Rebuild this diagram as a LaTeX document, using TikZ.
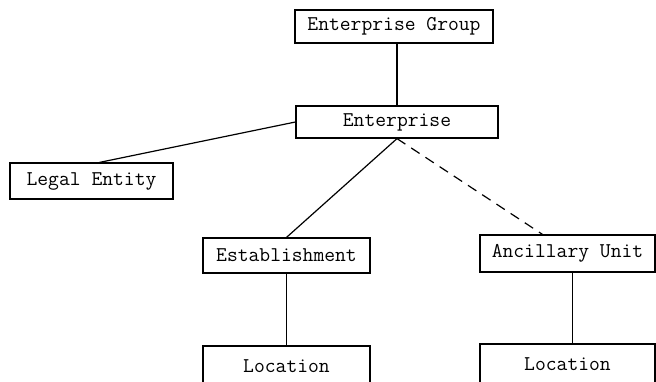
\documentclass[tikz,border=0pt]{standalone}
\usepackage{xcolor}
\usepackage{tikz}

\begin{document}
\begin{tikzpicture}[x=1pt, y=1pt, line width=1.2pt,
    unitbox/.style={draw, rectangle, inner sep=0pt, font=\ttfamily\fontsize{21}{25}\selectfont}]
                \useasboundingbox (0,0) rectangle (656,-382);
                \node[unitbox, minimum width=198pt, minimum height=33pt] (grp) at (394,-26.5) {Enterprise Group};
                \node[unitbox, minimum width=202pt, minimum height=32pt] (ent) at (397,-122) {Enterprise};
                \node[unitbox, minimum width=163pt, minimum height=36pt] (legal) at (91.5,-181) {Legal Entity};
                \node[unitbox, minimum width=167pt, minimum height=35pt] (est) at (286.5,-255.5) {Establishment};
                \node[unitbox, minimum width=175pt, minimum height=37pt] (anc) at (567.5,-253.5) {Ancillary Unit};
                \node[unitbox, minimum width=167pt, minimum height=40pt] (loc1) at (286.5,-366) {Location};
                \node[unitbox, minimum width=175pt, minimum height=40pt] (loc2) at (567.5,-364) {Location};
                \draw (ent.north) -- (ent.north |- grp.south);
                \draw (ent.west) -- ([xshift=8pt]legal.north);
                \draw (ent.south) -- (est.north);
                \draw[dash pattern=on 10pt off 7pt] (ent.south) -- ([xshift=-25pt]anc.north);
                \draw (est.south) -- (loc1.north);
                \draw ([xshift=5pt]anc.south) -- ([xshift=5pt]anc.south |- loc2.north);
            \end{tikzpicture}
\end{document}
